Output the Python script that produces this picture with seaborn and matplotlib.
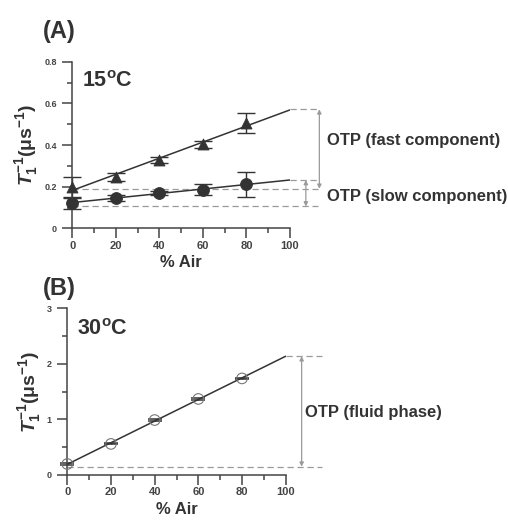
import matplotlib
matplotlib.use("Agg")
import matplotlib.pyplot as plt
import seaborn as sns
import numpy as np
import pandas as pd

# ---------------- data ----------------
air = [0, 20, 40, 60, 80]

# panel A, 15 C
fast_t1 = [0.197, 0.248, 0.330, 0.404, 0.506]
fast_err = [0.05, 0.02, 0.015, 0.017, 0.047]
slow_t1 = [0.122, 0.147, 0.170, 0.186, 0.211]
slow_err = [0.03, 0.015, 0.01, 0.028, 0.062]

# panel B, 30 C
fluid_t1 = [0.198, 0.56, 0.99, 1.37, 1.74]
fluid_err = [0.01, 0.01, 0.01, 0.01, 0.01]

# reference levels for the OTP brackets
fast_levels = [0.572, 0.19]
slow_levels = [0.232, 0.105]
fluid_levels = [2.14, 0.15]

x_ticks = [0, 20, 40, 60, 80, 100]
a_yticks = [0, 0.2, 0.4, 0.6, 0.8]
a_ylabels = ["0", "0.2", "0.4", "0.6", "0.8"]
b_yticks = [0, 1, 2, 3]
b_ylabels = ["0", "1", "2", "3"]

df_a = pd.DataFrame({"air": air, "fast": fast_t1, "slow": slow_t1})
df_b = pd.DataFrame({"air": air, "fluid": fluid_t1})

# ---------------- style ----------------
sns.set_style("ticks")
plt.rcParams["font.family"] = ["Liberation Sans", "DejaVu Sans"]
plt.rcParams["font.weight"] = "bold"
plt.rcParams["mathtext.fontset"] = "custom"
plt.rcParams["mathtext.rm"] = "Liberation Sans:bold"
plt.rcParams["mathtext.it"] = "Liberation Sans:italic:bold"
plt.rcParams["mathtext.bf"] = "Liberation Sans:bold"

dark = "#333333"
axc = "#444444"
dashc = "#9a9a9a"
arrc = "#9a9a9a"

fig = plt.figure(figsize=(5.08, 5.21), dpi=100)
axA = fig.add_axes([0.1423, 0.5618, 0.4285, 0.3194])
axB = fig.add_axes([0.1325, 0.0883, 0.4299, 0.3196])

dash = dict(color=dashc, lw=0.9, ls=(0, (5, 3)), clip_on=False, zorder=1)
arrow = dict(arrowstyle="<|-|>", color=arrc, lw=0.9, mutation_scale=6,
             shrinkA=0, shrinkB=0)

# ---------------- panel A ----------------
axA.set_xlim(0, 100)
for col in ["fast", "slow"]:
    sns.regplot(data=df_a, x="air", y=col, ax=axA, ci=None, scatter=False,
                truncate=False, line_kws=dict(color=dark, lw=1.1))

axA.errorbar(air, fast_t1, yerr=fast_err, fmt="none", ecolor=dark, elinewidth=1,
             capsize=6.4, capthick=1, clip_on=False)
axA.errorbar(air, slow_t1, yerr=slow_err, fmt="none", ecolor=dark, elinewidth=1,
             capsize=6.4, capthick=1, clip_on=False)
sns.scatterplot(data=df_a, x="air", y="fast", ax=axA, marker="^", s=62,
                color=dark, edgecolor=dark, clip_on=False, zorder=5)
sns.scatterplot(data=df_a, x="air", y="slow", ax=axA, marker="o", s=72,
                color=dark, edgecolor=dark, clip_on=False, zorder=5)

axA.plot([100, 113], [fast_levels[0]] * 2, **dash)
axA.plot([0, 113], [fast_levels[1]] * 2, **dash)
axA.plot([100, 113], [slow_levels[0]] * 2, **dash)
axA.plot([0, 113], [slow_levels[1]] * 2, **dash)
axA.annotate("", xy=(113.5, fast_levels[1]), xytext=(113.5, fast_levels[0]),
             arrowprops=arrow, annotation_clip=False)
axA.annotate("", xy=(107.3, slow_levels[1]), xytext=(107.3, slow_levels[0]),
             arrowprops=arrow, annotation_clip=False)
axA.text(117, 0.4245, "OTP (fast component)", fontsize=12, fontweight="bold",
         color=dark, va="center", ha="left", clip_on=False)
axA.text(117, 0.152, "OTP (slow component)", fontsize=12, fontweight="bold",
         color=dark, va="center", ha="left", clip_on=False)
axA.text(0.045, 0.849, r"15$^{\mathbf{o}}$C", transform=axA.transAxes,
         fontsize=15.5, fontweight="bold", color=dark, va="baseline")

# ---------------- panel B ----------------
axB.set_xlim(0, 100)
sns.regplot(data=df_b, x="air", y="fluid", ax=axB, ci=None, scatter=False,
            truncate=False, line_kws=dict(color=dark, lw=1.1))
axB.errorbar(air, fluid_t1, yerr=fluid_err, fmt="none", ecolor=dark,
             elinewidth=1, capsize=5, capthick=1.1, clip_on=False)
sns.scatterplot(data=df_b, x="air", y="fluid", ax=axB, marker="o", s=58,
                facecolor="none", edgecolor="#777777", linewidth=0.8,
                clip_on=False, zorder=5)

axB.plot([100, 116.5], [fluid_levels[0]] * 2, **dash)
axB.plot([0, 116.5], [fluid_levels[1]] * 2, **dash)
axB.annotate("", xy=(107.3, fluid_levels[1]), xytext=(107.3, fluid_levels[0]),
             arrowprops=arrow, annotation_clip=False)
axB.text(108.8, 1.12, "OTP (fluid phase)", fontsize=12, fontweight="bold",
         color=dark, va="center", ha="left", clip_on=False)
axB.text(0.044, 0.841, r"30$^{\mathbf{o}}$C", transform=axB.transAxes,
         fontsize=15.5, fontweight="bold", color=dark, va="baseline")


def style_axis(ax, yticks, ylabels, yminor):
    ax.set_xlim(0, 100)
    ax.set_xticks(x_ticks)
    ax.set_xticks([10, 30, 50, 70, 90], minor=True)
    ax.set_yticks(yticks)
    ax.set_yticklabels(ylabels)
    ax.set_yticks(yminor, minor=True)
    ax.set_ylim(yticks[0], yticks[-1])
    for s in ["top", "right"]:
        ax.spines[s].set_visible(False)
    for s in ["left", "bottom"]:
        ax.spines[s].set_color(axc)
        ax.spines[s].set_linewidth(1.1)
    ax.tick_params(axis="both", which="major", length=7, width=1.1, color=axc)
    ax.tick_params(axis="both", which="minor", length=3.5, width=1.1, color=axc)
    ax.tick_params(axis="x", labelsize=8, labelcolor=axc, pad=2)
    ax.tick_params(axis="y", labelsize=6.5, labelcolor=axc, pad=4)
    for lab in ax.get_xticklabels() + ax.get_yticklabels():
        lab.set_fontweight("bold")
    ax.set_xlabel("% Air", fontsize=12, fontweight="bold", color=dark, labelpad=3)
    ax.set_ylabel(r"$T_1^{-1}$(μs$^{-1}$)", fontsize=14, fontweight="bold",
                  color=dark, labelpad=3)


style_axis(axA, a_yticks, a_ylabels, [0.1, 0.3, 0.5, 0.7])
style_axis(axB, b_yticks, b_ylabels, [0.5, 1.5, 2.5])

fig.text(0.0846, 0.9265, "(A)", fontsize=17, fontweight="bold", color=dark,
         va="baseline")
fig.text(0.0846, 0.4338, "(B)", fontsize=17, fontweight="bold", color=dark,
         va="baseline")

fig.savefig("out.png", dpi=100)
